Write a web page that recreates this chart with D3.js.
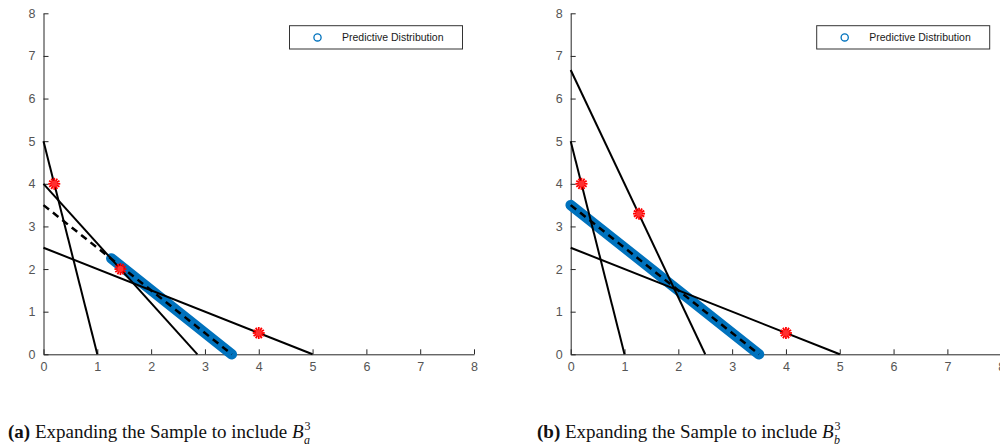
<!DOCTYPE html>
<html>
<head>
<meta charset="utf-8">
<script src="https://cdn.jsdelivr.net/npm/d3@7"></script>
<style>
  html, body { margin: 0; padding: 0; background: #fff; }
  svg { display: block; }
</style>
</head>
<body>
<svg id="chart" width="1000" height="446"></svg>
<script>
// Axis ticks shared by both panels
const tickValues = [0, 1, 2, 3, 4, 5, 6, 7, 8];

// Panel (a): constraint lines, mean line, predictive segment, sample points
const linesA = [[[0, 5], [1, 0]], [[0, 4], [2.86, 0]], [[0, 2.5], [5, 0]]];
const meanA = [[0, 3.5], [3.5, 0]];
const predA = [[1.26, 2.25], [3.5, 0]];
const starsA = [[0.2, 4], [1.43, 2], [4, 0.5]];

// Panel (b)
const linesB = [[[0, 5], [1, 0]], [[0, 6.67], [2.5, 0]], [[0, 2.5], [5, 0]]];
const meanB = [[0, 3.5], [3.5, 0]];
const predB = [[0, 3.5], [3.5, 0]];
const starsB = [[0.2, 4], [1.27, 3.3], [4, 0.5]];

const legendLabel = "Predictive Distribution";
const captions = [
  { tag: "(a)", text: " Expanding the Sample to include ", sub: "a" },
  { tag: "(b)", text: " Expanding the Sample to include ", sub: "b" }
];

const svg = d3.select("#chart");
const blue = "#0072BD";
const axisCol = "#262626";

const panels = [
  { left: 43.5, lines: linesA, mean: meanA, pred: predA, stars: starsA, legendX: 289.5, caption: captions[0], capX: 8 },
  { left: 570.7, lines: linesB, mean: meanB, pred: predB, stars: starsB, legendX: 816.7, caption: captions[1], capX: 537 }
];

panels.forEach(p => {
  const x = d3.scaleLinear().domain([0, 8]).range([p.left, p.left + 430.5]);
  const y = d3.scaleLinear().domain([0, 8]).range([354.3, 13.3]);
  const g = svg.append("g");
  const line = d3.line().x(d => x(d[0])).y(d => y(d[1]));

  // axes with inward ticks
  const xAxis = g.append("g").attr("transform", `translate(0,${y(0)})`)
    .call(d3.axisBottom(x).tickValues(tickValues).tickSizeInner(-5).tickSizeOuter(0).tickPadding(8));
  const yAxis = g.append("g").attr("transform", `translate(${x(0)},0)`)
    .call(d3.axisLeft(y).tickValues(tickValues).tickSizeInner(-5).tickSizeOuter(0).tickPadding(8));
  [xAxis, yAxis].forEach(a => {
    a.attr("font-size", 12.5).attr("font-family", "'Liberation Sans', Arial, sans-serif");
    a.select(".domain").attr("stroke", axisCol).attr("stroke-width", 1);
    a.selectAll(".tick line").attr("stroke", axisCol).attr("stroke-width", 1);
    a.selectAll(".tick text").attr("fill", "#555");
  });

  // predictive distribution band
  g.append("path").datum(p.pred).attr("d", line)
    .attr("fill", "none").attr("stroke", blue).attr("stroke-width", 10.5)
    .attr("stroke-linecap", "round");

  // constraint lines
  g.selectAll(".cline").data(p.lines).enter().append("path")
    .attr("d", line).attr("fill", "none").attr("stroke", "#000").attr("stroke-width", 2);

  // mean line (dashed)
  g.append("path").datum(p.mean).attr("d", line)
    .attr("fill", "none").attr("stroke", "#000").attr("stroke-width", 2.5)
    .attr("stroke-dasharray", "7,5");

  // sample points as red asterisks
  const star = g.selectAll(".star").data(p.stars).enter().append("g")
    .attr("transform", d => `translate(${x(d[0])},${y(d[1])})`);
  [0, 30, 60, 90, 120, 150].forEach(a => {
    star.append("line").attr("x1", -6).attr("x2", 6).attr("y1", 0).attr("y2", 0)
      .attr("transform", `rotate(${a})`).attr("stroke", "#ff0000").attr("stroke-width", 1.8);
  });
  star.append("circle").attr("r", 3).attr("fill", "#ff3030");

  // legend
  const lg = g.append("g").attr("transform", `translate(${p.legendX},25.7)`);
  lg.append("rect").attr("width", 173).attr("height", 23.3)
    .attr("fill", "#fff").attr("stroke", "#333").attr("stroke-width", 1);
  lg.append("circle").attr("cx", 28).attr("cy", 11.7).attr("r", 3.6)
    .attr("fill", "none").attr("stroke", blue).attr("stroke-width", 1.3);
  lg.append("text").attr("x", 52.5).attr("y", 15.5).text(legendLabel)
    .attr("fill", "#1a1a1a").style("font-family", "'Liberation Sans', Arial, sans-serif").style("font-size", "10.5px");

  // caption: main text, then superscript and subscript stacked after B
  const t = svg.append("text").attr("x", p.capX).attr("y", 438)
    .style("font-family", "'Liberation Serif', 'DejaVu Serif', serif").style("font-size", "19px").attr("fill", "#111");
  t.append("tspan").attr("font-weight", "bold").text(p.caption.tag);
  t.append("tspan").text(p.caption.text);
  const bSpan = t.append("tspan").attr("font-style", "italic").text("B");
  const end = t.node().getComputedTextLength();
  svg.append("text").attr("x", p.capX + end + 1).attr("y", 430)
    .style("font-family", "'Liberation Serif', 'DejaVu Serif', serif").style("font-size", "12px")
    .attr("fill", "#111").text("3");
  svg.append("text").attr("x", p.capX + end + 0.5).attr("y", 444)
    .style("font-family", "'Liberation Serif', 'DejaVu Serif', serif").style("font-size", "12px")
    .attr("font-style", "italic").attr("fill", "#111").text(p.caption.sub);
});
</script>
</body>
</html>
